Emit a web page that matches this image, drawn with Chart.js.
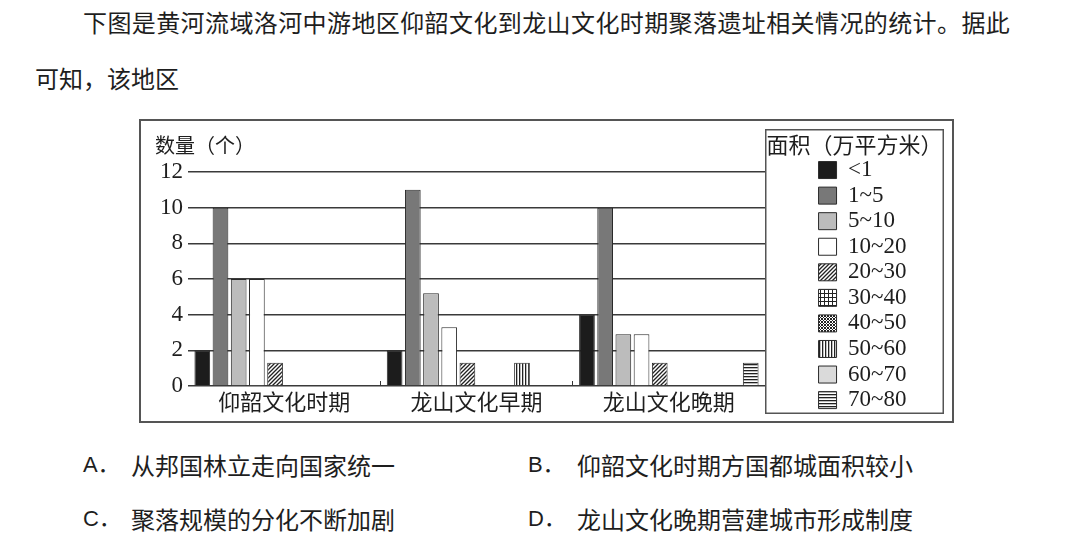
<!DOCTYPE html>
<html><head><meta charset="utf-8">
<script src="https://cdn.jsdelivr.net/npm/chart.js@4"></script>
<style>
html,body{margin:0;padding:0;background:#fff;width:1080px;height:555px;overflow:hidden}
body{position:relative;font-family:"Noto Sans CJK SC",sans-serif;color:#1e1e1e}
.t{position:absolute;font-size:24px;line-height:28px;white-space:nowrap}
.l{font-family:"Liberation Sans","Noto Sans CJK SC",sans-serif;font-size:22px}
#frame{position:absolute;left:139px;top:119px;width:811px;height:300px;border:2px solid #555}
#frame canvas{display:block}
</style></head><body>
<div class="t" style="left:83px;top:8px;letter-spacing:0.4px">下图是黄河流域洛河中游地区仰韶文化到龙山文化时期聚落遗址相关情况的统计。据此</div>
<div class="t" style="left:35px;top:64px">可知，该地区</div>
<div class="t l" style="left:83px;top:451px">A．</div>
<div class="t" style="left:131px;top:451px">从邦国林立走向国家统一</div>
<div class="t l" style="left:528px;top:451px">B．</div>
<div class="t" style="left:577px;top:451px">仰韶文化时期方国都城面积较小</div>
<div class="t l" style="left:83px;top:505px">C．</div>
<div class="t" style="left:131px;top:505px">聚落规模的分化不断加剧</div>
<div class="t l" style="left:528px;top:505px">D．</div>
<div class="t" style="left:577px;top:505px">龙山文化晚期营建城市形成制度</div>
<div id="frame"><canvas id="c" width="811" height="300"></canvas></div>
<script>
// ---- data ----
const categories = ['仰韶文化时期', '龙山文化早期', '龙山文化晚期'];
const areaClasses = ['<1', '1~5', '5~10', '10~20', '20~30', '30~40', '40~50', '50~60', '60~70', '70~80'];
const lt1     = [2, 2, 4];
const a1to5   = [10, 11, 10];
const a5to10  = [6, 5.2, 2.9];
const a10to20 = [6, 3.3, 2.9];
const a20to30 = [1.3, 1.3, 1.3];
const a30to40 = [0, 0, 0];
const a40to50 = [0, 0, 0];
const a50to60 = [0, 1.3, 0];
const a60to70 = [0, 0, 0];
const a70to80 = [0, 0, 1.3];
const yTicks = [0, 2, 4, 6, 8, 10, 12];
const yAxisTitle = '数量（个）';
const legendTitle = '面积（万平方米）';

// ---- styles ----
function makePattern(kind) {
  const c = document.createElement('canvas');
  const x = c.getContext('2d');
  if (kind === 'diag') {
    c.width = 4; c.height = 4;
    x.fillStyle = '#fff'; x.fillRect(0, 0, 4, 4);
    x.strokeStyle = '#222'; x.lineWidth = 1.3;
    x.beginPath();
    x.moveTo(-1, 5); x.lineTo(5, -1);
    x.moveTo(-1, 1); x.lineTo(1, -1);
    x.moveTo(3, 5); x.lineTo(5, 3);
    x.stroke();
  } else if (kind === 'grid') {
    c.width = 4; c.height = 4;
    x.fillStyle = '#222'; x.fillRect(0, 0, 4, 4);
    x.fillStyle = '#fff'; x.fillRect(1, 1, 3, 3);
  } else if (kind === 'dots') {
    c.width = 3; c.height = 3;
    x.fillStyle = '#fff'; x.fillRect(0, 0, 3, 3);
    x.fillStyle = '#222'; x.fillRect(0, 0, 1, 1); x.fillRect(1, 1, 1, 1); x.fillRect(2, 2, 1, 1);
    x.fillRect(2, 0, 1, 1); x.fillRect(0, 2, 1, 1);
  } else if (kind === 'vstripe') {
    c.width = 3; c.height = 3;
    x.fillStyle = '#fff'; x.fillRect(0, 0, 3, 3);
    x.fillStyle = '#222'; x.fillRect(0, 0, 1.3, 3);
  } else if (kind === 'hstripe') {
    c.width = 3; c.height = 3;
    x.fillStyle = '#fff'; x.fillRect(0, 0, 3, 3);
    x.fillStyle = '#222'; x.fillRect(0, 0, 3, 1.3);
  }
  return x.createPattern(c, 'repeat');
}
const fills = ['#1c1c1c', '#787878', '#bcbcbc', '#ffffff', makePattern('diag'), makePattern('grid'),
  makePattern('dots'), makePattern('vstripe'), '#dadada', makePattern('hstripe')];
const seriesValues = [lt1, a1to5, a5to10, a10to20, a20to30, a30to40, a40to50, a50to60, a60to70, a70to80];

const SERIF = '"Liberation Serif", "DejaVu Serif", serif';
const CJK = '"Noto Sans CJK SC", sans-serif';
const LEGEND_W = 179;
const ITEM_DX = 51;

const legendPatch = {
  id: 'legendPatch',
  beforeInit(chart) {
    const lg = chart.legend;
    if (!lg) return;
    const fit = lg.fit, draw = lg._draw, drawTitle = lg.drawTitle;
    lg.fit = function () { fit.call(this); this.width = LEGEND_W; };
    if (draw) lg._draw = function () { this.ctx.save(); this.ctx.translate(ITEM_DX, 0); draw.call(this); this.ctx.restore(); };
    if (drawTitle) lg.drawTitle = function () { this.ctx.save(); this.ctx.translate(-ITEM_DX, 0); drawTitle.call(this); this.ctx.restore(); };
  },
  afterDraw(chart) {
    const lg = chart.legend, ctx = chart.ctx;
    ctx.save();
    ctx.strokeStyle = '#555';
    ctx.lineWidth = 1.5;
    ctx.strokeRect(lg.left + 0.75, lg.top + 0.75, lg.width - 1.5, 283.5);
    ctx.restore();
  }
};

new Chart(document.getElementById('c'), {
  type: 'bar',
  data: {
    labels: categories,
    datasets: areaClasses.map((name, i) => ({
      label: name,
      data: seriesValues[i],
      backgroundColor: fills[i],
      borderColor: '#2a2a2a',
      borderWidth: 1,
      categoryPercentage: 0.946,
      barPercentage: 0.863
    }))
  },
  options: {
    responsive: false,
    animation: false,
    layout: { padding: { left: 14, right: 8, top: 8, bottom: 0 } },
    plugins: {
      tooltip: { enabled: false },
      title: {
        display: true, text: yAxisTitle, align: 'start', color: '#1e1e1e',
        font: { family: CJK, size: 20, weight: 'normal', lineHeight: 1.2 },
        padding: { top: 4, bottom: 15 }
      },
      legend: {
        display: true, position: 'right', align: 'start',
        title: {
          display: true, text: legendTitle, color: '#1e1e1e',
          font: { family: CJK, size: 22, weight: 'normal', lineHeight: 1.0 },
          padding: { top: 5, bottom: 0 }
        },
        labels: {
          boxWidth: 18, boxHeight: 17, padding: 2.56, color: '#1e1e1e',
          font: { family: SERIF, size: 23 }
        }
      }
    },
    scales: {
      x: {
        grid: {
          display: true, drawOnChartArea: false, drawTicks: true, tickLength: -5,
          color: (c) => (c.index === 0 ? 'rgba(0,0,0,0)' : '#333'), lineWidth: 1
        },
        border: { display: false },
        ticks: { color: '#1e1e1e', padding: 7, font: { family: CJK, size: 22 } },
        afterFit: (s) => { s.height = 35; }
      },
      y: {
        min: yTicks[0], max: yTicks[yTicks.length - 1],
        afterBuildTicks: (s) => { s.ticks = yTicks.map(v => ({ value: v })); },
        grid: { color: '#3a3a3a', lineWidth: 1.5, drawTicks: false },
        border: { display: false },
        ticks: { color: '#1e1e1e', padding: 5, font: { family: SERIF, size: 23 } },
        afterFit: (s) => { s.width = 33; }
      }
    }
  },
  plugins: [legendPatch]
});
</script>
</body></html>
